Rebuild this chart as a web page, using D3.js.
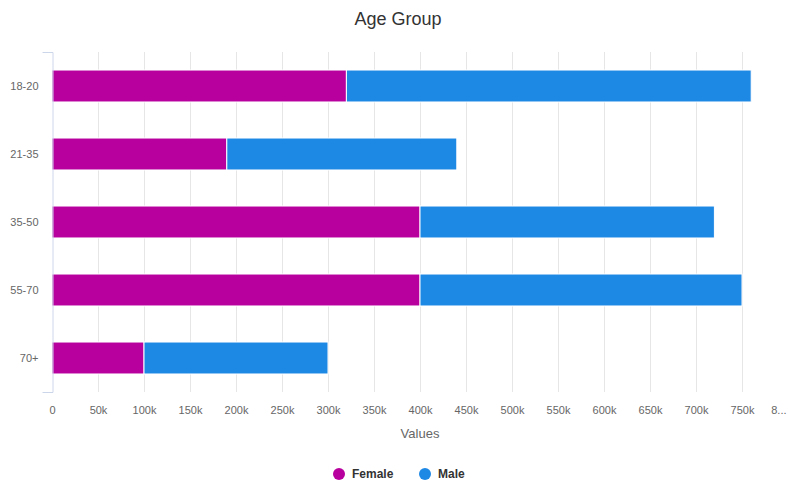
<!DOCTYPE html>
<html>
<head>
<meta charset="utf-8">
<title>Age Group</title>
<script src="https://d3js.org/d3.v7.min.js"></script>
<style>
  body { margin: 0; background: #fff; }
  text { font-family: "Liberation Sans", Arial, sans-serif; }
  .grid line { stroke: #e6e6e6; stroke-width: 1px; }
  .axis path, .axis line { stroke: #ccd6eb; }
  .axis text { fill: #666; font-size: 11px; }
</style>
</head>
<body>
<svg width="788" height="488"></svg>
<script>
  const categories = ["18-20", "21-35", "35-50", "55-70", "70+"];
  const female = [320000, 190000, 400000, 400000, 100000];
  const male = [440000, 250000, 320000, 350000, 200000];
  const seriesNames = ["Female", "Male"];
  const colors = ["#b8009f", "#1e88e5"];
  const xTicks = d3.range(0, 800001, 50000);

  const svg = d3.select("svg");
  const margin = { top: 52, right: 0, bottom: 96, left: 52 };
  const width = +svg.attr("width") - margin.left - margin.right;
  const height = +svg.attr("height") - margin.top - margin.bottom;

  const rows = categories.map((c, i) => ({ cat: c, Female: female[i], Male: male[i] }));
  const stacked = d3.stack().keys(seriesNames)(rows);

  const x = d3.scaleLinear().domain([0, 800000]).range([0, width]);
  const y = d3.scaleBand().domain(categories).range([0, height]).paddingInner(0.53).paddingOuter(0.265);

  const g = svg.append("g").attr("transform", `translate(${margin.left},${margin.top})`);

  // vertical grid
  g.append("g").attr("class", "grid")
    .selectAll("line").data(xTicks.slice(1)).enter().append("line")
      .attr("x1", d => Math.round(x(d)) + 0.5).attr("x2", d => Math.round(x(d)) + 0.5)
      .attr("y1", 0).attr("y2", height);

  // bars
  g.selectAll("g.series").data(stacked).enter().append("g")
      .attr("class", "series")
      .attr("fill", (d, i) => colors[i])
    .selectAll("rect").data(d => d).enter().append("rect")
      .attr("x", d => x(d[0]))
      .attr("y", d => y(d.data.cat))
      .attr("width", d => x(d[1]) - x(d[0]))
      .attr("height", y.bandwidth())
      .attr("stroke", "#fff")
      .attr("stroke-width", 1);

  // y axis
  const yAxis = g.append("g").attr("class", "axis")
    .attr("transform", "translate(0.5,0)")
    .call(d3.axisLeft(y).tickSize(0).tickSizeOuter(10).tickPadding(14));
  yAxis.selectAll("text").attr("dy", "0.35em");

  // x axis labels
  const fmt = d3.format("~s");
  const xAxis = g.append("g").attr("class", "axis")
    .attr("transform", `translate(0,${height})`)
    .call(d3.axisBottom(x).tickValues(xTicks).tickSize(0).tickPadding(14)
      .tickFormat(d => d === 800000 ? "8..." : (d === 0 ? "0" : fmt(d))));
  xAxis.select(".domain").remove();
  xAxis.selectAll(".tick").filter(d => d === 800000).select("text").attr("text-anchor", "end").attr("x", -2);

  // axis title
  svg.append("text")
    .attr("x", margin.left + x(400000)).attr("y", 438)
    .attr("text-anchor", "middle")
    .attr("fill", "#666").attr("font-size", 13)
    .text("Values");

  // chart title
  svg.append("text")
    .attr("x", 398).attr("y", 25)
    .attr("text-anchor", "middle")
    .attr("fill", "#333").attr("font-size", 18)
    .text("Age Group");

  // legend
  const legendX = [339, 425];
  const legend = svg.selectAll("g.legend").data(seriesNames).enter().append("g")
    .attr("class", "legend")
    .attr("transform", (d, i) => `translate(${legendX[i]},474)`);
  legend.append("circle").attr("r", 6).attr("fill", (d, i) => colors[i]);
  legend.append("text").attr("x", 13).attr("dy", "0.35em")
    .attr("fill", "#333").attr("font-size", 12).attr("font-weight", "bold")
    .text(d => d);
</script>
</body>
</html>
